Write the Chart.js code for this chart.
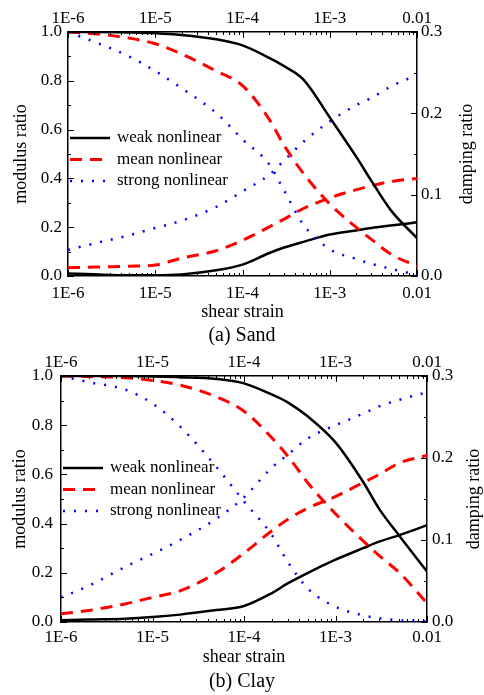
<!DOCTYPE html>
<html lang="en">
<head>
<meta charset="UTF-8">
<title>Modulus and damping ratio curves</title>
<script src="https://cdn.jsdelivr.net/npm/chart.js"></script>
<style>
  body { margin: 0; background: #fff; }
  canvas { display: block; }
</style>
</head>
<body>
<canvas id="sand" width="484" height="345"></canvas>
<canvas id="clay" width="484" height="350"></canvas>
<script>
// shear strain sample points (x) and decade tick labels
const strain = [1e-6, 2e-6, 5e-6, 1e-5, 2e-5, 5e-5, 1e-4, 2e-4, 3e-4, 5e-4, 1e-3, 2e-3, 3e-3, 5e-3, 1e-2];
const decades = [1e-6, 1e-5, 1e-4, 1e-3, 1e-2];
const decadeLabels = ['1E-6', '1E-5', '1E-4', '1E-3', '0.01'];
const seriesNames = ['weak nonlinear', 'mean nonlinear', 'strong nonlinear'];

// (a) Sand
const sandWeakG   = [1.0, 1.0, 0.998, 0.995, 0.988, 0.97, 0.945, 0.895, 0.86, 0.805, 0.65, 0.49, 0.39, 0.27, 0.155];
const sandMeanG   = [1.0, 0.993, 0.975, 0.952, 0.91, 0.84, 0.78, 0.645, 0.535, 0.42, 0.295, 0.20, 0.15, 0.09, 0.04];
const sandStrongG = [1.0, 0.96, 0.90, 0.84, 0.77, 0.668, 0.56, 0.46, 0.35, 0.21, 0.11, 0.07, 0.05, 0.03, 0.005];
const sandWeakD   = [0.003, 0.002, 0.001, 0.001, 0.002, 0.007, 0.014, 0.028, 0.035, 0.042, 0.051, 0.056, 0.059, 0.062, 0.066];
const sandMeanD   = [0.010, 0.011, 0.012, 0.0135, 0.022, 0.031, 0.044, 0.06, 0.07, 0.083, 0.096, 0.106, 0.111, 0.116, 0.12];
const sandStrongD = [0.032, 0.04, 0.05, 0.059, 0.068, 0.085, 0.104, 0.124, 0.142, 0.165, 0.19, 0.21, 0.219, 0.233, 0.247];

// (b) Clay
const clayWeakG   = [1.0, 1.0, 1.0, 0.998, 0.995, 0.988, 0.97, 0.925, 0.893, 0.835, 0.73, 0.57, 0.46, 0.35, 0.205];
const clayMeanG   = [1.0, 0.998, 0.993, 0.982, 0.963, 0.915, 0.857, 0.75, 0.675, 0.565, 0.44, 0.33, 0.27, 0.20, 0.077];
const clayStrongG = [1.0, 0.975, 0.945, 0.888, 0.795, 0.63, 0.49, 0.355, 0.245, 0.135, 0.062, 0.027, 0.015, 0.007, 0.003];
const clayWeakD   = [0.002, 0.003, 0.004, 0.006, 0.009, 0.0145, 0.0195, 0.035, 0.047, 0.06, 0.076, 0.09, 0.098, 0.106, 0.118];
const clayMeanD   = [0.01, 0.014, 0.022, 0.03, 0.038, 0.06, 0.084, 0.111, 0.125, 0.139, 0.153, 0.17, 0.18, 0.194, 0.203];
const clayStrongD = [0.03, 0.044, 0.067, 0.083, 0.1, 0.126, 0.152, 0.188, 0.204, 0.224, 0.24, 0.254, 0.263, 0.271, 0.28];

const FONT = "'Liberation Serif', 'Times New Roman', serif";
Chart.defaults.font.family = FONT;
Chart.defaults.color = '#000';

const styles = [
  { color: '#000000', dash: [], width: 2.5 },
  { color: '#ff0000', dash: [12, 8], width: 3 },
  { color: '#0000ff', dash: [2, 9], width: 2.5 }
];

function series(arr, i, axis) {
  return {
    label: seriesNames[i],
    data: strain.map((s, k) => ({ x: s, y: arr[k] })),
    yAxisID: axis,
    borderColor: styles[i].color,
    borderDash: styles[i].dash,
    borderWidth: styles[i].width,
    pointRadius: 0,
    fill: false,
    cubicInterpolationMode: 'monotone'
  };
}

function decadeLabel(v) {
  const i = decades.findIndex(d => Math.abs(Math.log10(d) - Math.log10(v)) < 1e-6);
  return i >= 0 ? decadeLabels[i] : '';
}

function setLogTicks(scale) {
  const t = [];
  decades.forEach((d, i) => {
    t.push({ value: d, major: true });
    if (i < decades.length - 1) for (let m = 2; m <= 9; m++) t.push({ value: m * d, major: false });
  });
  scale.ticks = t;
}

// inward tick marks, major and minor
const innerTicks = {
  id: 'innerTicks',
  afterDatasetsDraw(chart) {
    const { ctx, chartArea: ca } = chart;
    ctx.save();
    ctx.strokeStyle = '#000';
    ctx.lineWidth = 1;
    ctx.beginPath();
    Object.values(chart.scales).forEach(s => {
      let list;
      if (s.type === 'logarithmic') {
        list = s.ticks.map(t => ({ v: t.value, major: t.major }));
      } else {
        list = [];
        s.ticks.forEach((t, i) => {
          list.push({ v: t.value, major: true });
          if (i < s.ticks.length - 1) list.push({ v: (t.value + s.ticks[i + 1].value) / 2, major: false });
        });
      }
      list.forEach(t => {
        const len = t.major ? 6 : 3;
        const p = Math.round(s.getPixelForValue(t.v)) + 0.5;
        if (s.position === 'bottom') { ctx.moveTo(p, ca.bottom); ctx.lineTo(p, ca.bottom - len); }
        else if (s.position === 'top') { ctx.moveTo(p, ca.top); ctx.lineTo(p, ca.top + len); }
        else if (s.position === 'left') { ctx.moveTo(ca.left, p); ctx.lineTo(ca.left + len, p); }
        else { ctx.moveTo(ca.right, p); ctx.lineTo(ca.right - len, p); }
      });
    });
    ctx.stroke();
    ctx.restore();
  }
};

// legend drawn inside the plot
const inLegend = {
  id: 'inLegend',
  afterDatasetsDraw(chart, args, opts) {
    const { ctx, chartArea } = chart;
    ctx.save();
    ctx.font = '17px ' + FONT;
    ctx.textBaseline = 'middle';
    ctx.fillStyle = '#000';
    seriesNames.forEach((name, i) => {
      const x = chartArea.left + opts.left;
      const y = chartArea.top + opts.top + i * opts.gap;
      ctx.strokeStyle = styles[i].color;
      ctx.lineWidth = styles[i].width;
      ctx.setLineDash(styles[i].dash);
      ctx.beginPath();
      ctx.moveTo(x, y);
      ctx.lineTo(x + opts.len, y);
      ctx.stroke();
      ctx.setLineDash([]);
      ctx.fillText(name, x + opts.len + 7, y);
    });
    ctx.restore();
  }
};

// right-hand axis title, read bottom to top like the left one
const sideTitle = {
  id: 'sideTitle',
  afterDraw(chart, args, opts) {
    const { ctx, chartArea: ca } = chart;
    ctx.save();
    ctx.translate(opts.x, (ca.top + ca.bottom) / 2);
    ctx.rotate(-Math.PI / 2);
    ctx.font = '18px ' + FONT;
    ctx.textAlign = 'center';
    ctx.textBaseline = 'middle';
    ctx.fillStyle = '#000';
    ctx.fillText(opts.text, 0, 0);
    ctx.restore();
  }
};

function logAxis(pos, size, pad, title, titlePad) {
  return {
    type: 'logarithmic',
    position: pos,
    min: 1e-6,
    max: 1e-2,
    afterBuildTicks: setLogTicks,
    afterFit: s => { s.height = size; },
    ticks: { autoSkip: false, maxRotation: 0, minRotation: 0, padding: pad, callback: decadeLabel, font: { size: 17 } },
    grid: { display: false, drawTicks: false },
    border: { color: '#000', width: 1.5 },
    title: { display: !!title, text: title || '', padding: { top: 0, bottom: titlePad || 0 }, font: { size: 18 } }
  };
}

function linAxis(pos, max, step, size, pad, title, titlePad) {
  return {
    position: pos,
    min: 0,
    max: max,
    afterFit: s => { s.width = size; },
    ticks: { stepSize: step, padding: pad, callback: v => v.toFixed(1), font: { size: 17 } },
    grid: { display: false, drawTicks: false },
    border: { color: '#000', width: 1.5 },
    title: { display: !!title, text: title || '', padding: { top: titlePad || 0, bottom: 0 }, font: { size: 18 } }
  };
}

function makeChart(id, title, g, d, lay) {
  const datasets = [
    series(g[0], 0, 'y'), series(g[1], 1, 'y'), series(g[2], 2, 'y'),
    series(d[0], 0, 'y2'), series(d[1], 1, 'y2'), series(d[2], 2, 'y2')
  ];
  return new Chart(document.getElementById(id), {
    type: 'line',
    data: { datasets },
    options: {
      responsive: false,
      animation: false,
      layout: { padding: 0 },
      plugins: {
        legend: { display: false },
        tooltip: { enabled: false },
        title: { display: true, text: title, position: 'bottom', font: { size: 20, weight: 'normal' }, color: '#000', padding: { top: 0, bottom: lay.titlePad } },
        inLegend: { top: lay.legTop, left: 2, len: 40, gap: 21.5 },
        sideTitle: { text: 'damping ratio', x: lay.y2TitleX }
      },
      scales: {
        x: logAxis('bottom', lay.bottom, lay.xPad, 'shear strain', lay.xTitlePad),
        x2: logAxis('top', lay.top, lay.x2Pad),
        y: linAxis('left', 1, 0.2, lay.left, lay.yPad, 'modulus ratio', lay.yTitlePad),
        y2: linAxis('right', 0.3, 0.1, lay.right, lay.y2Pad)
      }
    },
    plugins: [innerTicks, inLegend, sideTitle]
  });
}

makeChart('sand', '(a) Sand',
  [sandWeakG, sandMeanG, sandStrongG], [sandWeakD, sandMeanD, sandStrongD],
  { top: 32, bottom: 48, left: 68, right: 67, titlePad: -3, xPad: 7, x2Pad: 3, xTitlePad: 1.2,
    yPad: 6, y2Pad: 4, yTitlePad: 10, y2TitleX: 467, legTop: 106 });

makeChart('clay', '(b) Clay',
  [clayWeakG, clayMeanG, clayStrongG], [clayWeakD, clayMeanD, clayStrongD],
  { top: 31, bottom: 48, left: 61, right: 57, titlePad: 1, xPad: 5, x2Pad: 3, xTitlePad: 2.2,
    yPad: 8, y2Pad: 5, yTitlePad: 9, y2TitleX: 474, legTop: 92 });
</script>
</body>
</html>
